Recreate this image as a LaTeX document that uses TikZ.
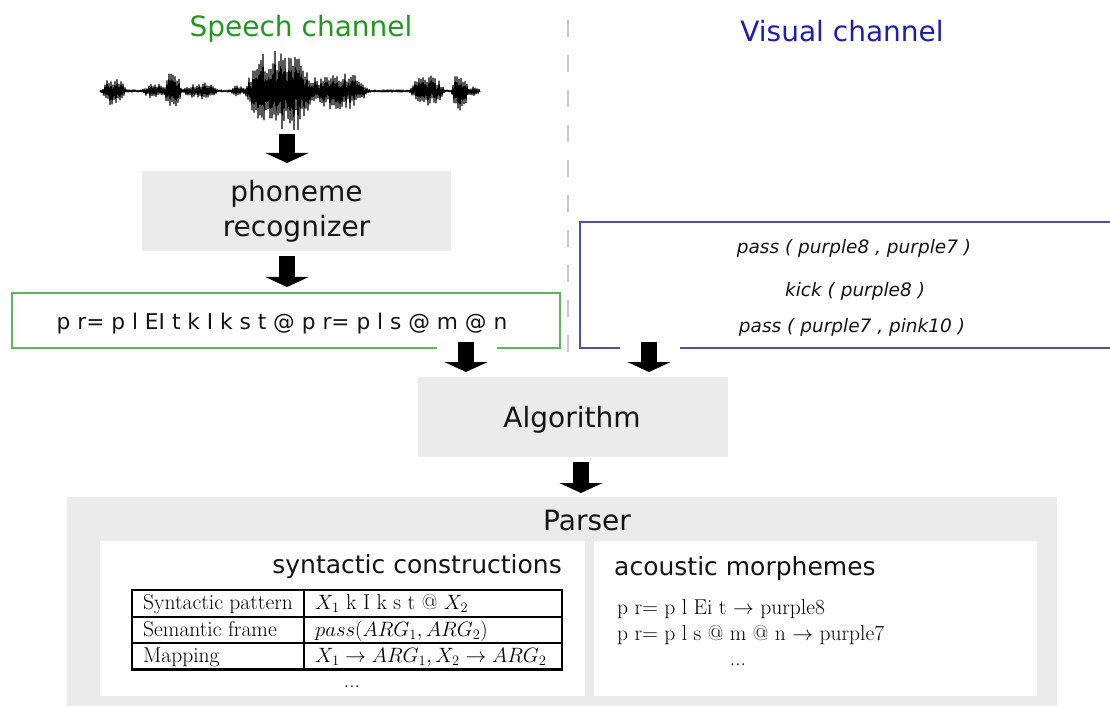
\documentclass[tikz,border=0pt]{standalone}
\usepackage{fontspec}
\newfontfamily\dvsans{DejaVu Sans}
\newfontfamily\lmrm{lmroman17-regular.otf}
\usetikzlibrary{arrows.meta,calc}
\definecolor{speechgreen}{RGB}{34,150,34}
\definecolor{visualblue}{RGB}{30,30,170}
\definecolor{boxgreen}{RGB}{95,180,95}
\definecolor{boxblue}{RGB}{80,80,170}
\definecolor{panelgray}{RGB}{235,235,235}
\definecolor{dashgray}{RGB}{200,200,200}
\definecolor{inkblack}{RGB}{20,20,20}

\begin{document}
\begin{tikzpicture}[x=1pt,y=-1pt,
  declare function={
    sq(\t,\c,\w)=min(((\t-\c)/\w)*((\t-\c)/\w),1);
    bp(\t,\c,\w)=(1-sq(\t,\c,\w))*(1-sq(\t,\c,\w))*(1+2*sq(\t,\c,\w));
    env(\t)=1.2+13*bp(\t,114,13)+6*bp(\t,155,14)+19*bp(\t,173,9)
            +7*bp(\t,200,19)+4*bp(\t,237,7)+41*bp(\t,281,40)
            +17*bp(\t,340,31)+15*bp(\t,427,19)+19*bp(\t,460,9)
            +4*bp(\t,474,7);
    alt(\k)=1-2*mod(round(\k),2);
  },
  graybox/.style={fill=panelgray, draw=none, inner sep=0pt, outer sep=0pt},
  whitebox/.style={fill=white, draw=none, inner sep=0pt, outer sep=0pt},
  framebox/.style={line width=1.5pt, fill=none, inner sep=0pt, outer sep=0pt},
  blockarrow/.style={line width=16pt, draw=black, -{Triangle[width=43pt,length=10pt]}},
  gapline/.style={draw=white, line width=4pt},
  bigsans/.style={font=\dvsans\fontsize{28}{35}\selectfont, text=inkblack, inner sep=0pt},
  midsans/.style={font=\dvsans\fontsize{25}{30}\selectfont, text=inkblack, inner sep=0pt},
  phontext/.style={font=\dvsans\fontsize{21.7}{26}\selectfont, text=inkblack, inner sep=0pt},
  vistext/.style={font=\dvsans\itshape\fontsize{18.5}{22}\selectfont, text=inkblack, inner sep=0pt},
  romantext/.style={font=\lmrm\fontsize{21.5}{25}\selectfont, text=black, inner sep=0pt},
  tablerule/.style={line width=1.5pt, draw=black},
  thickrule/.style={line width=3pt, draw=black},
]
\useasboundingbox (0,0) rectangle (1110,708);

% channel titles
\node[font=\dvsans\fontsize{28}{34}\selectfont, text=speechgreen, anchor=base, inner sep=0pt]
  (speech) at (301,37) {Speech channel};
\node[font=\dvsans\fontsize{28}{34}\selectfont, text=visualblue, anchor=base, inner sep=0pt]
  (visual) at (842,42) {Visual channel};

% separator between the two channels
\draw[dashgray, line width=2pt, dash pattern=on 17pt off 18pt] (568,20) -- (568,360);

% speech waveform
\pgfmathsetseed{5}
\draw[black, line width=1.1pt, line join=round]
  plot[domain=0:380, samples=381]
  ({100+\x},{91+env(100+\x)*(0.4+0.6*rnd)*alt(\x)});

% phoneme recognizer
\node[graybox, minimum width=309pt, minimum height=80pt, bigsans, align=center]
  (rec) at (296.5,211) {phoneme\\recognizer};

% recognized phoneme string
\node[framebox, draw=boxgreen, minimum width=548pt, minimum height=55pt]
  (phon) at (286,320.5) {};
\node[phontext, anchor=base] (phonstr) at (282,329)
  {p r= p l EI t k I k s t @ p r= p l s @ m @ n};

% visual scene description
\node[framebox, draw=boxblue, minimum width=540pt, minimum height=126pt]
  (vis) at (850,285) {};
\node[vistext, anchor=base] (vis1) at (854,254) {pass ( purple8 , purple7 )};
\node[vistext, anchor=base] (vis2) at (855,297) {kick ( purple8 )};
\node[vistext, anchor=base] (vis3) at (852,332) {pass ( purple7 , pink10 )};

% algorithm
\node[graybox, minimum width=310pt, minimum height=80pt] (alg) at (573,417) {};
\node[bigsans, anchor=base] (algtxt) at (572,427) {Algorithm};

% parser with its two panels
\node[graybox, minimum width=990pt, minimum height=209pt] (parser) at (562,601.5) {};
\node[bigsans, anchor=base] (parsertxt) at (587,530) {Parser};
\node[whitebox, minimum width=485pt, minimum height=155pt] (syn) at (342.5,618.5) {};
\node[whitebox, minimum width=443pt, minimum height=155pt] (acm) at (815.5,618.5) {};

\node[midsans, anchor=base east] (syntitle) at (562,573) {syntactic constructions};
\node[midsans, anchor=base west] (acmtitle) at (614,575) {acoustic morphemes};

% construction table
\draw[tablerule] (132,590) -- (562,590);
\draw[tablerule] (132,617) -- (562,617);
\draw[tablerule] (132,643) -- (562,643);
\draw[thickrule] (132,669.5) -- (562,669.5);
\draw[tablerule] (132,589.25) -- (132,671);
\draw[tablerule] (304,589.25) -- (304,671);
\draw[tablerule] (562,589.25) -- (562,671);
\node[romantext, anchor=base west] (r1a) at (143,609) {Syntactic pattern};
\node[romantext, anchor=base west] (r1b) at (315,609) {$X_1$ k I k s t @ $X_2$};
\node[romantext, anchor=base west] (r2a) at (143,636) {Semantic frame};
\node[romantext, anchor=base west] (r2b) at (315,636) {$pass(ARG_1, ARG_2)$};
\node[romantext, anchor=base west] (r3a) at (143,662) {Mapping};
\node[romantext, anchor=base west] (r3b) at (315,662) {$X_1 \rightarrow ARG_1, X_2 \rightarrow ARG_2$};
\node[romantext, anchor=base] (syndots) at (352,687) {...};

% morpheme lexicon
\node[romantext, anchor=base west] (m1) at (617,614) {p r= p l Ei t $\rightarrow$ purple8};
\node[romantext, anchor=base west] (m2) at (617,640) {p r= p l s @ m @ n $\rightarrow$ purple7};
\node[romantext, anchor=base] (acmdots) at (738,665) {...};

% openings in the frames where the arrows leave
\draw[gapline] ($(phon.south)+(151,0)$) -- ($(phon.south)+(211,0)$);
\draw[gapline] ($(vis.south)+(-230,0)$) -- ($(vis.south)+(-170,0)$);

% data flow
\draw[blockarrow] ($(rec.north)+(-9.5,-37)$) -- ($(rec.north)+(-9.5,-8)$);
\draw[blockarrow] ($(rec.south)+(-9.5,5)$) -- ($(phon.north)+(1,-6)$);
\draw[blockarrow] ($(phon.south)+(180,-6)$) -- ($(alg.north)+(-107,-5)$);
\draw[blockarrow] ($(vis.south)+(-201,-6)$) -- ($(alg.north)+(76,-5)$);
\draw[blockarrow] ($(alg.south)+(8,5)$) -- ($(parser.north)+(19,-4)$);
\end{tikzpicture}
\end{document}
